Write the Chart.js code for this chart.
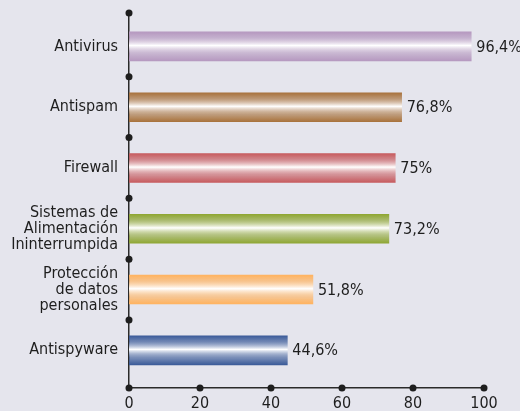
<!DOCTYPE html>
<html>
<head>
<meta charset="utf-8">
<script src="https://cdn.jsdelivr.net/npm/chart.js@4/dist/chart.umd.min.js"></script>
<style>
    html, body { margin: 0; padding: 0; background: #e5e5ed; }
    #chartContainer { width: 520px; height: 411px; }
</style>
</head>
<body>
<div id="chartContainer"><canvas id="securityChart"></canvas></div>
<script>
const categories = [
    ['Antivirus'],
    ['Antispam'],
    ['Firewall'],
    ['Sistemas de', 'Alimentación', 'Ininterrumpida'],
    ['Protección', 'de datos', 'personales'],
    ['Antispyware'],
];
const percentages = [96.4, 76.8, 75, 73.2, 51.8, 44.6];
const barColors = ['#b598bf', '#a8723c', '#c65a5e', '#8ea632', '#ffb25e', '#3b5b99'];
const xTicks = [0, 20, 40, 60, 80, 100];

const FONT = '"DejaVu Sans Condensed", "Liberation Sans Narrow", sans-serif';
const BAR_H = 29;

/**
 * vertical shine: coloured edges, white band a bit above the middle
 */
const barGradient = (context) => {
    const chart = context.chart;
    if (!chart.chartArea) return barColors[context.dataIndex];
    const yc = chart.scales.y.getPixelForValue(context.dataIndex);
    const g = chart.ctx.createLinearGradient(0, yc - BAR_H / 2, 0, yc + BAR_H / 2);
    const c = barColors[context.dataIndex];
    g.addColorStop(0, c);
    g.addColorStop(0.2, c + 'b0');
    g.addColorStop(0.47, '#ffffff');
    g.addColorStop(0.75, c + 'a0');
    g.addColorStop(1, c);
    return g;
};

// dots along both axes and the value labels
const axisDots = {
    id: 'axisDots',
    afterDatasetsDraw(chart) {
        const ctx = chart.ctx;
        const area = chart.chartArea;
        const x = chart.scales.x;
        const y = chart.scales.y;
        ctx.save();
        ctx.fillStyle = '#1e1e1e';
        const dot = (px, py) => {
            ctx.beginPath();
            ctx.arc(px, py, 3.5, 0, Math.PI * 2);
            ctx.fill();
        };
        xTicks.forEach((t) => dot(x.getPixelForValue(t), area.bottom));
        dot(area.left, area.top);
        for (let i = 1; i < categories.length; i++) {
            dot(area.left, y.getPixelForValue(i - 0.5));
        }

        ctx.font = '16px ' + FONT;
        ctx.textBaseline = 'middle';
        ctx.textAlign = 'left';
        chart.getDatasetMeta(0).data.forEach((bar, i) => {
            const txt = String(percentages[i]).replace('.', ',') + '%';
            ctx.fillText(txt, bar.x + 5, bar.y + 1);
        });
        ctx.restore();
    },
};

const ctx = document.getElementById('securityChart');
const myChart = new Chart(ctx, {
    type: 'bar',
    data: {
        datasets: [
            {
                data: percentages.map((v, i) => ({ x: v, y: i })),
                backgroundColor: barGradient,
                borderWidth: 0,
                barThickness: BAR_H,
            },
        ],
    },
    options: {
        indexAxis: 'y',
        responsive: true,
        maintainAspectRatio: false,
        animation: false,
        layout: {
            padding: { top: 13, right: 36, left: 0, bottom: 0 },
        },
        plugins: {
            legend: { display: false },
            tooltip: { enabled: false },
        },
        scales: {
            x: {
                min: 0,
                max: 100,
                grid: { display: false, drawTicks: false },
                border: { color: '#2a2a2a', width: 1.5 },
                ticks: {
                    stepSize: 20,
                    padding: 6,
                    color: '#1e1e1e',
                    font: { family: FONT, size: 16 },
                },
                afterFit: (scale) => {
                    scale.height = 23;
                },
            },
            y: {
                type: 'linear',
                reverse: true,
                offset: false,
                min: -0.55,
                max: 5.62,
                grid: { display: false, drawTicks: false },
                border: { color: '#2a2a2a', width: 1.5 },
                ticks: {
                    stepSize: 1,
                    includeBounds: false,
                    autoSkip: false,
                    padding: 11,
                    color: '#1e1e1e',
                    font: { family: FONT, size: 16, lineHeight: 1 },
                    callback: (value) => categories[value] || '',
                },
                afterFit: (scale) => {
                    scale.width = 129;
                    scale.paddingTop = 0;
                    scale.paddingBottom = 0;
                },
            },
        },
    },
    plugins: [axisDots],
});
</script>
</body>
</html>
